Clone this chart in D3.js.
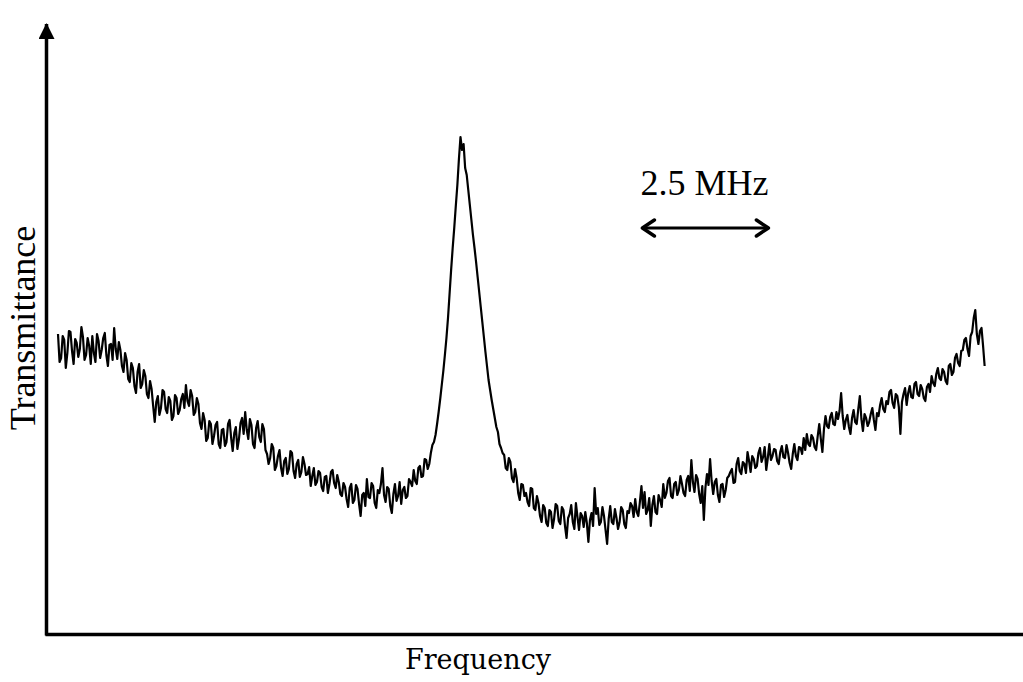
<!DOCTYPE html>
<html>
<head>
<meta charset="utf-8">
<script src="https://cdn.jsdelivr.net/npm/d3@7"></script>
<style>
  body { margin: 0; background: #fff; }
  svg { display: block; }
</style>
</head>
<body>
<svg id="chart"></svg>
<script>
// sweep: detuning from the resonance, MHz
const freqStart = -7.8;
const freqStep = 0.03;

// transmittance, arbitrary units (20 samples per row)
const transmittance = [
    300, 272, 276, 298, 294, 266, 281, 303, 302, 283, 270, 295, 291, 277, 285, 307, 297, 274, 279, 296,
    288, 270, 298, 281, 272, 300, 293, 276, 284, 296, 301, 279, 268, 289, 290, 274, 306, 285, 275, 292,
    284, 268, 262, 281, 274, 255, 252, 271, 266, 248, 241, 262, 270, 246, 250, 264, 258, 240, 236, 253,
    245, 228, 212, 232, 238, 219, 226, 244, 242, 225, 221, 237, 233, 214, 218, 239, 236, 220, 224, 235,
    240, 226, 249, 233, 228, 244, 238, 219, 222, 236, 230, 211, 205, 221, 214, 193, 196, 213, 210, 190,
    198, 209, 212, 190, 186, 204, 205, 188, 192, 210, 214, 196, 183, 201, 207, 185, 195, 211, 216, 200,
    222, 204, 195, 215, 209, 190, 186, 206, 213, 197, 192, 210, 205, 184, 180, 170, 176, 190, 186, 164,
    168, 178, 184, 166, 158, 173, 176, 160, 165, 183, 181, 163, 156, 170, 174, 157, 162, 177, 170, 159,
    160, 167, 148, 158, 166, 149, 152, 163, 161, 147, 143, 157, 158, 141, 150, 162, 164, 151, 146, 159,
    152, 140, 138, 151, 147, 135, 127, 146, 150, 131, 134, 149, 145, 130, 118, 139, 141, 128, 155, 137,
    136, 151, 148, 131, 126, 144, 141, 150, 166, 139, 132, 147, 145, 128, 121, 140, 150, 133, 138, 152,
    130, 144, 147, 136, 138, 155, 152, 148, 164, 153, 150, 166, 168, 157, 158, 175, 174, 165, 170, 181,
    189, 192, 199, 210, 222, 235, 249, 263, 279, 296, 316, 340, 364, 386, 406, 428, 449, 475, 497, 484,
    490, 466, 459, 444, 429, 414, 399, 386, 372, 357, 342, 327, 312, 297, 282, 268, 254, 244, 234, 225,
    216, 207, 202, 190, 186, 181, 179, 166, 164, 176, 172, 156, 152, 165, 156, 141, 134, 150, 149, 138,
    141, 132, 128, 146, 145, 126, 124, 138, 131, 118, 112, 129, 126, 111, 108, 124, 122, 106, 115, 130,
    128, 113, 110, 127, 124, 108, 96, 116, 120, 129, 112, 105, 131, 117, 104, 121, 118, 107, 122, 111,
    92, 114, 121, 108, 146, 120, 126, 109, 112, 127, 118, 104, 90, 115, 128, 112, 110, 125, 116, 105,
    112, 127, 124, 110, 106, 123, 121, 131, 128, 117, 135, 122, 118, 132, 148, 126, 142, 120, 124, 136,
    108, 129, 138, 122, 120, 139, 134, 127, 150, 136, 141, 153, 156, 138, 136, 150, 152, 139, 144, 158,
    150, 141, 138, 154, 158, 143, 174, 152, 142, 159, 155, 140, 131, 148, 114, 146, 160, 149, 175, 153,
    140, 152, 155, 139, 132, 149, 150, 137, 144, 156, 158, 162, 165, 151, 152, 170, 176, 163, 160, 172,
    170, 161, 182, 173, 162, 178, 175, 166, 168, 181, 186, 172, 177, 187, 164, 176, 190, 174, 178, 185,
    184, 173, 170, 182, 188, 177, 176, 189, 181, 171, 165, 180, 190, 178, 174, 187, 186, 180, 196, 184,
    200, 190, 188, 199, 196, 187, 184, 198, 210, 195, 182, 205, 218, 208, 206, 217, 221, 210, 209, 222,
    215, 223, 241, 218, 205, 214, 219, 207, 200, 216, 224, 212, 210, 225, 238, 215, 203, 220, 216, 208,
    212, 220, 226, 214, 204, 221, 218, 229, 236, 225, 222, 233, 230, 242, 244, 231, 226, 240, 238, 227,
    200, 232, 240, 246, 229, 241, 248, 237, 236, 250, 252, 240, 238, 249, 245, 236, 233, 247, 250, 242,
    258, 251, 248, 260, 266, 256, 254, 265, 262, 253, 250, 268, 270, 259, 262, 276, 280, 271, 268, 283,
    284, 294, 296, 285, 278, 298, 302, 316, 324, 300, 290, 303, 306, 288, 268
];

// scale bar annotation
const scaleBar = { from: 3.4, to: 5.9, label: "2.5 MHz" };
const xLabel = "Frequency";
const yLabel = "Transmittance";

const width = 1023, height = 682;
const data = transmittance.map((t, i) => ({ f: freqStart + i * freqStep, t: t }));

const svg = d3.select("#chart").attr("width", width).attr("height", height);

const x = d3.scaleLinear().domain([-7.8, 10]).range([58, 983.6]);
const y = d3.scaleLinear().domain([0, 620]).range([634, 14]);

// axis line spans the whole frame, same mapping as x
const xFrame = x.copy().domain([x.invert(45), x.invert(1023)]).range([45, 1023]);

svg.append("defs").append("marker")
    .attr("id", "axisHead")
    .attr("viewBox", "0 0 16 16")
    .attr("refX", 15).attr("refY", 8)
    .attr("markerWidth", 16).attr("markerHeight", 16)
    .attr("markerUnits", "userSpaceOnUse")
    .attr("orient", "auto")
    .append("path")
    .attr("d", "M0,0 L16,8 L0,16 Z")
    .attr("fill", "#000");

const xAxis = svg.append("g")
    .attr("transform", `translate(0, ${y(0)})`)
    .call(d3.axisBottom(xFrame).ticks(0).tickSizeOuter(0));
xAxis.select(".domain").attr("stroke", "#000").attr("stroke-width", 3.5);

const yAxis = svg.append("g")
    .attr("transform", `translate(46.5, 0)`)
    .call(d3.axisLeft(y.copy().range([635.5, 24])).ticks(0).tickSizeOuter(0));
yAxis.select(".domain")
    .attr("stroke", "#000").attr("stroke-width", 3.5)
    .attr("d", `M0,635.5V24`)
    .attr("marker-end", "url(#axisHead)");

// trace
const line = d3.line().x(d => x(d.f)).y(d => y(d.t));
svg.append("path")
    .datum(data)
    .attr("fill", "none")
    .attr("stroke", "#000")
    .attr("stroke-width", 2.2)
    .attr("stroke-linejoin", "round")
    .attr("d", line);

// labels
svg.append("text")
    .attr("x", 478).attr("y", 669)
    .attr("text-anchor", "middle")
    .style("font-family", "'DejaVu Serif', serif")
    .style("font-size", "27px")
    .text(xLabel);

svg.append("text")
    .attr("transform", "translate(35, 328) rotate(-90)")
    .attr("text-anchor", "middle")
    .style("font-family", "'Liberation Serif', 'Times New Roman', serif")
    .style("font-size", "36px")
    .text(yLabel);

// 2.5 MHz scale bar
const bar = svg.append("g");
const bx0 = x(scaleBar.from), bx1 = x(scaleBar.to), by = 228;
bar.append("text")
    .attr("x", bx0).attr("y", 195)
    .style("font-family", "'Liberation Serif', 'Times New Roman', serif")
    .style("font-size", "36px")
    .text(scaleBar.label);
bar.append("line")
    .attr("x1", bx0 + 2).attr("x2", bx1 - 2)
    .attr("y1", by).attr("y2", by)
    .attr("stroke", "#000").attr("stroke-width", 3);
bar.append("path")
    .attr("d", `M${bx0 + 14},${by - 8} L${bx0 + 2},${by} L${bx0 + 14},${by + 8}` +
               `M${bx1 - 14},${by - 8} L${bx1 - 2},${by} L${bx1 - 14},${by + 8}`)
    .attr("fill", "none")
    .attr("stroke", "#000").attr("stroke-width", 3.5)
    .attr("stroke-linecap", "round").attr("stroke-linejoin", "round");
</script>
</body>
</html>
